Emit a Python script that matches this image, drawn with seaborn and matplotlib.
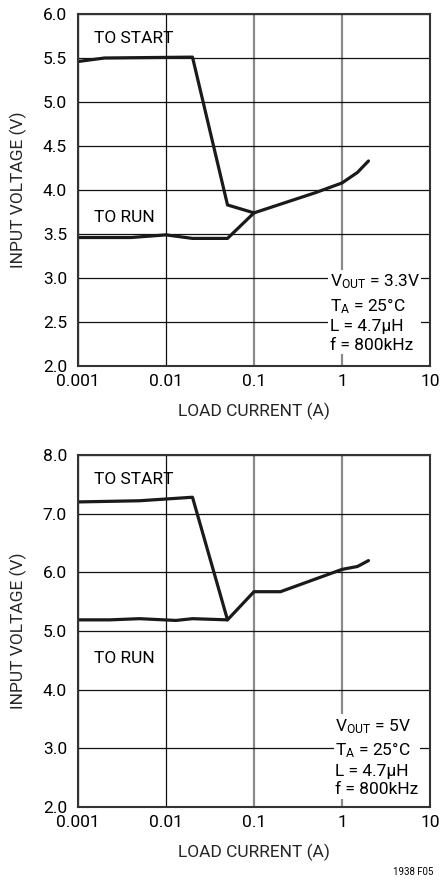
import pandas as pd
import numpy as np
import seaborn as sns
import matplotlib.pyplot as plt

# values (load current in A, input voltage in V)
top_start_x = [0.001, 0.002, 0.02, 0.05, 0.1, 0.5, 1.0, 1.5, 2.0]
top_start_y = [5.46, 5.50, 5.51, 3.83, 3.74, 3.97, 4.08, 4.20, 4.33]
top_run_x = [0.001, 0.004, 0.01, 0.02, 0.05, 0.1]
top_run_y = [3.46, 3.46, 3.49, 3.45, 3.45, 3.74]

bot_start_x = [0.001, 0.005, 0.01, 0.02, 0.05, 0.1, 0.2, 1.0, 1.5, 2.0]
bot_start_y = [7.20, 7.22, 7.25, 7.28, 5.19, 5.67, 5.67, 6.05, 6.10, 6.20]
bot_run_x = [0.001, 0.0023, 0.005, 0.013, 0.02, 0.05]
bot_run_y = [5.19, 5.19, 5.21, 5.18, 5.21, 5.19]

x_ticks = [0.001, 0.01, 0.1, 1, 10]
x_labels = ['0.001', '0.01', '0.1', '1', '10']
top_yticks = [2.0, 2.5, 3.0, 3.5, 4.0, 4.5, 5.0, 5.5, 6.0]
bot_yticks = [2.0, 3.0, 4.0, 5.0, 6.0, 7.0, 8.0]

top_note = 'V$_{\\mathrm{OUT}}$ = 3.3V\nT$_{\\mathrm{A}}$ = 25°C\nL = 4.7µH\nf = 800kHz'
bot_note = 'V$_{\\mathrm{OUT}}$ = 5V\nT$_{\\mathrm{A}}$ = 25°C\nL = 4.7µH\nf = 800kHz'

sns.set_style('white')
plt.rcParams['font.family'] = ['Roboto', 'DejaVu Sans']
plt.rcParams['mathtext.fontset'] = 'custom'
plt.rcParams['mathtext.rm'] = 'Roboto'
plt.rcParams['mathtext.it'] = 'Roboto'
plt.rcParams['text.color'] = '#000000'
FS = 12.5

fig = plt.figure(figsize=(4.4, 8.8), dpi=100)
ax1 = fig.add_axes([78/440, 1 - 366/880, 352/440, 352/880])
ax2 = fig.add_axes([78/440, 1 - 807/880, 352/440, 352/880])


def draw(ax, sx, sy, rx, ry, yticks, ylim, note, note_x, note_top):
    start = pd.DataFrame({'x': sx, 'y': sy})
    run = pd.DataFrame({'x': rx, 'y': ry})
    sns.lineplot(data=start, x='x', y='y', ax=ax, color='#1a1a1a', lw=2.3,
                 estimator=None, sort=False)
    sns.lineplot(data=run, x='x', y='y', ax=ax, color='#1a1a1a', lw=2.3,
                 estimator=None, sort=False)
    ax.set_xscale('log')
    ax.set_xlim(0.001, 10)
    ax.set_ylim(*ylim)
    ax.set_xticks(x_ticks)
    ax.set_xticklabels(x_labels)
    ax.minorticks_off()
    ax.set_yticks(yticks)
    ax.set_yticklabels(['%.1f' % v for v in yticks])
    ax.tick_params(length=0, labelsize=FS, colors='#000000')
    ax.tick_params(axis='x', pad=6)
    ax.tick_params(axis='y', pad=8)
    ax.grid(True, color='#111111', lw=0.9)
    for i, gl in enumerate(ax.get_xgridlines()):
        if i in (2, 3):
            gl.set_color('#8a8a8a')
            gl.set_linewidth(1.6)
    for s in ax.spines.values():
        s.set_color('#333333')
        s.set_linewidth(1.5)
    ax.set_xlabel('LOAD CURRENT (A)', fontsize=FS, labelpad=10)
    ax.set_ylabel('INPUT VOLTAGE (V)', fontsize=FS, labelpad=11)
    ax.text(0.045, 0.93, 'TO START', transform=ax.transAxes, fontsize=FS, va='center')
    ax.text(0.045, 0.423, 'TO RUN', transform=ax.transAxes, fontsize=FS, va='center')
    ax.text(note_x, note_top, note, transform=ax.transAxes, fontsize=FS,
            va='top', ha='left', linespacing=1.3,
            bbox=dict(facecolor='white', edgecolor='none', pad=1))


draw(ax1, top_start_x, top_start_y, top_run_x, top_run_y, top_yticks, (2.0, 6.0),
     top_note, 0.715, 0.265)
draw(ax2, bot_start_x, bot_start_y, bot_run_x, bot_run_y, bot_yticks, (2.0, 8.0),
     bot_note, 0.73, 0.255)

fig.text(0.985, 0.003, '1938 F05', fontsize=7, ha='right', va='bottom')

plt.savefig('out.png', dpi=100)
